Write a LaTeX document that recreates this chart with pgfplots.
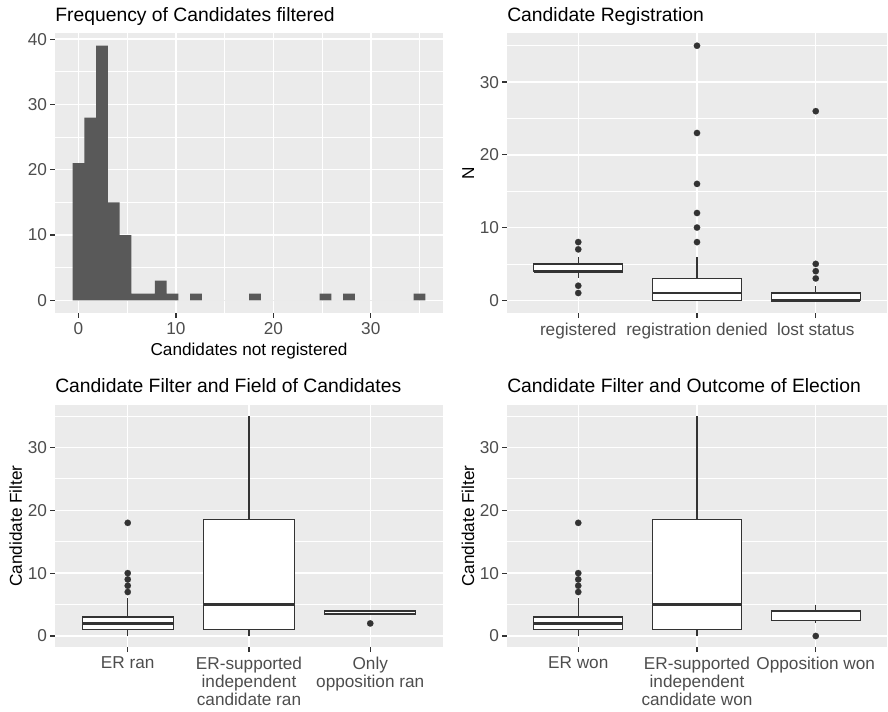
\documentclass[border=0pt]{standalone}
\usepackage{fontspec}
\setmainfont{Liberation Sans}
\usepackage{pgfplots}
\pgfplotsset{compat=1.18}
\usepgfplotslibrary{statistics}
\definecolor{bg}{HTML}{EBEBEB}
\definecolor{histfill}{HTML}{595959}
\definecolor{dk}{HTML}{333333}
\definecolor{tk}{HTML}{4D4D4D}
\newcommand\tickfont{\fontsize{12.9}{13.75}\selectfont}
\newcommand\titlefont{\fontsize{14.5}{17}\selectfont}
\pgfplotsset{
 ggbase/.style={
  scale only axis,
  anchor=south west,
  axis background/.style={fill=bg},
  axis line style={draw=none},
  grid=both,
  major grid style={white, line width=1.1pt},
  minor grid style={white, line width=0.55pt},
  tick align=outside,
  tick pos=left,
  major tick length=3.75pt,
  minor tick length=0pt,
  every tick/.style={dk, line width=0.9pt},
  tick label style={font=\tickfont, text=tk},
  yticklabel style={xshift=1.2pt},
  /pgf/number format/assume math mode=true,
  label style={font=\tickfont, text=black},
  every axis y label/.style={at={(axis description cs:0,0.5)}, anchor=base, xshift=-24.75pt, rotate=90, font=\tickfont, text=black},
  xticklabel style={align=center},
  boxplot/draw direction=y,
 },
 toptitle/.style={every axis title/.style={at={(axis description cs:0,1)}, anchor=base west, inner sep=0pt, yshift=8.5pt, font=\titlefont, text=black}},
 bottitle/.style={every axis title/.style={at={(axis description cs:0,1)}, anchor=base west, inner sep=0pt, yshift=9.2pt, font=\titlefont, text=black}},
 ggboxaxis/.style={
  xmin=0.4, xmax=3.6, ymin=-1.75, ymax=36.75,
  xtick={1,2,3}, ytick={0,10,20,30}, minor ytick={5,15,25,35},
 },
 boxst/.style={draw=dk, fill=white, line width=1pt, solid, mark=*, mark size=2.4pt,
  mark options={fill=dk, draw=dk, line width=0.1pt}},
}
\begin{document}
\begin{tikzpicture}
\useasboundingbox (0,0) rectangle (666pt,533.25pt);
% Panel 1: histogram
\begin{axis}[ggbase, toptitle, at={(41.25pt,298.5pt)}, width=291pt, height=210pt,
 xmin=-2.413, xmax=37.413, ymin=-1.95, ymax=40.95,
 xtick={0,10,20,30}, minor xtick={5,15,25,35},
 ytick={0,10,20,30,40}, minor ytick={5,15,25,35},
 title={Frequency of Candidates filtered},
 xlabel={Candidates not registered},
 xlabel style={at={(axis description cs:0.5,0)}, anchor=base, yshift=-31.9pt}]
\addplot[ybar interval, fill=histfill, draw=none] coordinates {
(-0.6034,21) (0.6034,28) (1.8103,39) (3.0172,15) (4.2241,10) (5.4310,1)
(6.6379,1) (7.8448,3) (9.0517,1) (10.2586,0) (11.4655,1) (12.6724,0)
(13.8793,0) (15.0862,0) (16.2931,0) (17.5,1) (18.7069,0) (19.9138,0)
(21.1207,0) (22.3276,0) (23.5345,0) (24.7414,1) (25.9483,0) (27.1552,1)
(28.3621,0) (29.5690,0) (30.7759,0) (31.9828,0) (33.1897,0) (34.3966,1)
(35.6034,0)};
\end{axis}
% Panel 2: Candidate Registration
\begin{axis}[ggbase, toptitle, ggboxaxis, at={(380.25pt,298.5pt)}, width=285pt, height=210pt,
 title={Candidate Registration},
 ylabel={N},
 xticklabels={registered, registration denied, lost status}]
\addplot[boxst, boxplot prepared={draw position=1, box extend=0.75, whisker extend=0,
 lower whisker=3, lower quartile=4, median=4, upper quartile=5, upper whisker=6,
 every median/.style={line width=2pt}}]
 coordinates {(1,1) (1,2) (1,7) (1,8)};
\addplot[boxst, boxplot prepared={draw position=2, box extend=0.75, whisker extend=0,
 lower whisker=0, lower quartile=0, median=1, upper quartile=3, upper whisker=6,
 every median/.style={line width=2pt}}]
 coordinates {(2,8) (2,10) (2,12) (2,16) (2,23) (2,35)};
\addplot[boxst, boxplot prepared={draw position=3, box extend=0.75, whisker extend=0,
 lower whisker=0, lower quartile=0, median=0, upper quartile=1, upper whisker=2,
 every median/.style={line width=2pt}}]
 coordinates {(3,3) (3,4) (3,5) (3,26)};
\end{axis}
% Panel 3: Field of Candidates
\begin{axis}[ggbase, bottitle, ggboxaxis, at={(41.25pt,48pt)}, width=291pt, height=181.5pt,
 title={Candidate Filter and Field of Candidates},
 ylabel={Candidate Filter},
 xticklabels={{ER ran},{ER-supported\\independent\\candidate ran},{Only\\opposition ran}}]
\addplot[boxst, boxplot prepared={draw position=1, box extend=0.75, whisker extend=0,
 lower whisker=0, lower quartile=1, median=2, upper quartile=3, upper whisker=6,
 every median/.style={line width=2pt}}]
 coordinates {(1,7) (1,8) (1,9) (1,10) (1,18)};
\addplot[boxst, boxplot prepared={draw position=2, box extend=0.75, whisker extend=0,
 lower whisker=0, lower quartile=1, median=5, upper quartile=18.5, upper whisker=35,
 every median/.style={line width=2pt}}]
 coordinates {};
\addplot[boxst, boxplot prepared={draw position=3, box extend=0.75, whisker extend=0,
 lower whisker=3.5, lower quartile=3.5, median=4, upper quartile=4, upper whisker=4,
 every median/.style={line width=2pt}}]
 coordinates {(3,2)};
\end{axis}
% Panel 4: Outcome of Election
\begin{axis}[ggbase, bottitle, ggboxaxis, at={(380.25pt,48pt)}, width=285pt, height=181.5pt,
 title={Candidate Filter and Outcome of Election},
 ylabel={Candidate Filter},
 xticklabels={{ER won},{ER-supported\\independent\\candidate won},{Opposition won}}]
\addplot[boxst, boxplot prepared={draw position=1, box extend=0.75, whisker extend=0,
 lower whisker=0, lower quartile=1, median=2, upper quartile=3, upper whisker=6,
 every median/.style={line width=2pt}}]
 coordinates {(1,7) (1,8) (1,9) (1,10) (1,18)};
\addplot[boxst, boxplot prepared={draw position=2, box extend=0.75, whisker extend=0,
 lower whisker=0, lower quartile=1, median=5, upper quartile=18.5, upper whisker=35,
 every median/.style={line width=2pt}}]
 coordinates {};
\addplot[boxst, boxplot prepared={draw position=3, box extend=0.75, whisker extend=0,
 lower whisker=2, lower quartile=2.5, median=4, upper quartile=4, upper whisker=5,
 every median/.style={line width=2pt}}]
 coordinates {(3,0)};
\end{axis}
\end{tikzpicture}
\end{document}
